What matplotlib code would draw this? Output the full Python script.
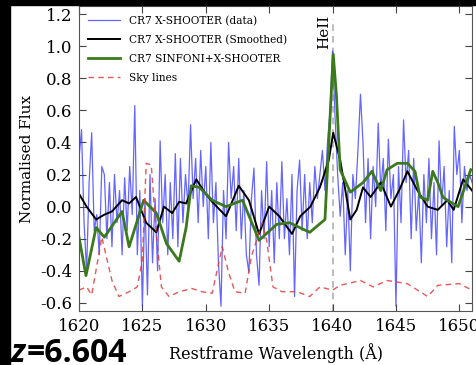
import numpy as np
import matplotlib
matplotlib.use("Agg")
import matplotlib.pyplot as plt
from matplotlib.patches import Rectangle

plt.rcParams['font.family'] = ['DejaVu Serif']
plt.rcParams['axes.unicode_minus'] = False

# X-SHOOTER data, sampled every 0.2 A from 1620
data_start = 1620.0
data_step = 0.2
data_flux = [
    0.30, 0.48, -0.10, -0.40, 0.15,
    0.46, -0.15, -0.05, -0.30, 0.25,
    0.20, -0.20, 0.15, -0.25, 0.20,
    -0.10, 0.10, -0.30, 0.18, -0.15,
    0.25, -0.05, 0.63, -0.30, 0.10,
    -0.62, 0.05, -0.55, 0.20, -0.35,
    0.05, -0.40, 0.41, -0.10, 0.20,
    -0.30, 0.15, -0.20, 0.33, -0.25,
    0.30, -0.10, 0.20, 0.00, 0.51,
    0.05, 0.30, -0.10, 0.35, 0.00,
    0.25, -0.20, 0.40, -0.10, 0.15,
    -0.35, -0.62, 0.10, -0.20, 0.40,
    0.05, 0.25, -0.15, 0.30, -0.20,
    0.10, -0.30, -0.41, 0.05, 0.24,
    -0.30, -0.49, 0.10, -0.20, 0.28,
    -0.25, 0.10, -0.35, 0.15, -0.20,
    0.28, -0.20, 0.05, -0.30, 0.20,
    -0.56, 0.10, 0.29, -0.15, 0.20,
    -0.20, 0.15, -0.10, 0.25, 0.05,
    0.20, 0.35, 0.10, 0.40, 0.60,
    0.97, 0.55, 0.20, -0.06, 0.15,
    -0.30, 0.10, -0.40, 0.20, 0.05,
    0.35, 0.70, 0.40, -0.10, 0.30,
    -0.20, 0.25, 0.00, 0.52, 0.10,
    0.30, -0.15, 0.42, 0.05, 0.20,
    -0.62, 0.25, -0.10, 0.54, 0.15,
    0.35, -0.20, 0.30, -0.15, 0.10,
    -0.35, 0.20, -0.10, 0.30, -0.20,
    0.15, -0.30, 0.41, 0.00, 0.25,
    -0.25, 0.10, -0.35, 0.50, 0.20,
    0.35, -0.10, 0.25, 0.10, 0.20,
    0.15,
]
data_wave = data_start + data_step * np.arange(len(data_flux))

# smoothed X-SHOOTER
smooth_wave = [1620.0, 1620.6, 1621.35, 1622.0, 1622.6, 1623.4, 1623.95, 1624.5,
               1625.3, 1626.1, 1626.7, 1627.35, 1627.9, 1628.45, 1629.25, 1629.9,
               1630.5, 1631.6, 1632.6, 1633.4, 1634.2, 1635.0, 1635.8, 1636.8,
               1637.45, 1638.25, 1639.0, 1639.7, 1640.05, 1640.6, 1641.4, 1641.9,
               1642.4, 1643.0, 1643.8, 1644.6, 1645.3, 1645.9, 1646.7, 1647.5,
               1648.3, 1649.05, 1649.55, 1650.3, 1651.0]
smooth_flux = [0.08, 0.0, -0.08, -0.05, -0.03, 0.04, 0.02, 0.06,
               -0.10, -0.16, 0.0, -0.04, 0.03, 0.02, 0.17, 0.09,
               0.03, -0.06, 0.13, 0.04, -0.17, 0.0, -0.06, -0.17,
               -0.06, 0.0, 0.12, 0.29, 0.46, 0.29, -0.08, -0.02,
               0.12, 0.06, 0.15, 0.0, 0.11, 0.22, 0.10, 0.0,
               -0.02, 0.04, -0.02, 0.17, 0.10]

# SINFONI + X-SHOOTER
sinf_wave = [1620.0, 1620.55, 1621.35, 1622.0, 1623.4, 1623.95, 1625.1, 1626.1,
             1626.9, 1627.9, 1628.45, 1628.85, 1629.5, 1630.5, 1631.6, 1632.9,
             1634.2, 1635.6, 1636.6, 1637.4, 1638.2, 1639.4, 1639.8, 1640.05,
             1640.3, 1640.6, 1641.4, 1642.4, 1643.1, 1643.8, 1644.3, 1645.1,
             1645.9, 1646.5, 1646.9, 1647.5, 1647.9, 1648.3, 1648.7, 1649.05,
             1649.9, 1650.9]
sinf_flux = [-0.19, -0.43, -0.13, -0.19, -0.03, -0.25, 0.04, -0.04,
             -0.23, -0.34, -0.13, 0.13, 0.12, 0.04, 0.0, 0.04,
             -0.21, -0.11, -0.10, -0.13, -0.16, -0.08, 0.55, 0.95,
             0.70, 0.23, 0.09, 0.15, 0.22, 0.10, 0.23, 0.27,
             0.27, 0.22, 0.06, 0.04, 0.22, 0.15, 0.06, 0.04,
             0.0, 0.23]

# sky lines (scaled)
sky_wave = [1620.0, 1620.6, 1621.0, 1621.8, 1622.6, 1623.15, 1623.95, 1624.6,
            1625.0, 1625.3, 1625.7, 1626.1, 1626.5, 1627.1, 1627.9, 1628.9,
            1629.7, 1630.5, 1631.3, 1631.8, 1632.3, 1633.1, 1633.6, 1634.45,
            1634.8, 1635.3, 1636.0, 1637.2, 1638.2, 1639.0, 1640.0, 1640.6,
            1642.2, 1643.2, 1644.3, 1645.9, 1647.5, 1648.3, 1650.0, 1651.0]
sky_flux = [-0.52, -0.50, -0.55, -0.19, -0.46, -0.56, -0.53, -0.50,
            -0.33, 0.27, 0.26, -0.17, -0.50, -0.56, -0.53, -0.51,
            -0.53, -0.54, -0.25, -0.41, -0.53, -0.54, -0.31, -0.10,
            -0.21, -0.50, -0.53, -0.53, -0.56, -0.50, -0.52, -0.49,
            -0.46, -0.50, -0.46, -0.48, -0.56, -0.49, -0.48, -0.52]

heii_wave = 1640.0

fig = plt.figure(figsize=(4.77, 3.65), dpi=100)
ax = fig.add_axes([0.1656, 0.148, 0.824, 0.8356])

ax.plot(data_wave, data_flux, color='#3030ff', lw=0.9, alpha=0.75,
        label='CR7 X-SHOOTER (data)')
ax.plot(smooth_wave, smooth_flux, color='black', lw=1.4,
        label='CR7 X-SHOOTER (Smoothed)')
ax.plot(sinf_wave, sinf_flux, color='#3b7a1c', lw=2.0,
        label='CR7 SINFONI+X-SHOOTER')
ax.plot(sky_wave, sky_flux, color='#e03c3c', lw=1.0, ls='--', dashes=(4, 3),
        alpha=0.85, label='Sky lines')

ax.plot([heii_wave, heii_wave], [-0.65, 1.17], color='#b0b0b0', lw=1.2,
        ls='--', dashes=(4, 3), zorder=0.5)
ax.text(heii_wave - 0.7, 1.09, 'HeII', rotation=90, ha='center', va='center',
        fontsize=11)

ax.set_xlim(1620, 1651)
ax.set_ylim(-0.65, 1.25)
ax.set_xticks(np.arange(1620, 1651, 5))
ax.set_yticks(np.arange(-0.6, 1.21, 0.2))
ax.set_yticklabels(['%.1f' % v for v in np.arange(-0.6, 1.21, 0.2)])
ax.tick_params(direction='in', top=True, right=True, length=5, width=0.8,
               labelsize=12, colors='#444444', labelcolor='black', pad=5)
for s in ax.spines.values():
    s.set_color('#555555')

ax.set_xlabel('Restframe Wavelength (Å)', fontsize=11.5, labelpad=6)
ax.set_ylabel('Normalised Flux', fontsize=11, labelpad=4)

leg = ax.legend(loc='upper left', frameon=False, fontsize=7.6,
                handlelength=3, borderaxespad=0.5, labelspacing=0.85)

fig.patches.append(Rectangle((0, 0), 10 / 477, 1, transform=fig.transFigure,
                             color='black', zorder=10))
fig.patches.append(Rectangle((0, 1 - 5 / 365), 1, 5 / 365,
                             transform=fig.transFigure, color='black', zorder=10))

# redshift label: italic z followed by the value, on one baseline
base_y = 3 / 365
zt = fig.text(11 / 477, base_y, 'z', fontsize=23, fontweight='bold',
              fontstyle='italic', family='Open Sans', ha='left', va='baseline')
fig.canvas.draw()
zbox = zt.get_window_extent(fig.canvas.get_renderer())
fig.text((zbox.x1 + 1.5) / fig.bbox.width, base_y, '=6.604', fontsize=23,
         fontweight='bold', family='Open Sans', ha='left', va='baseline')

fig.savefig('out.png', dpi=100)
